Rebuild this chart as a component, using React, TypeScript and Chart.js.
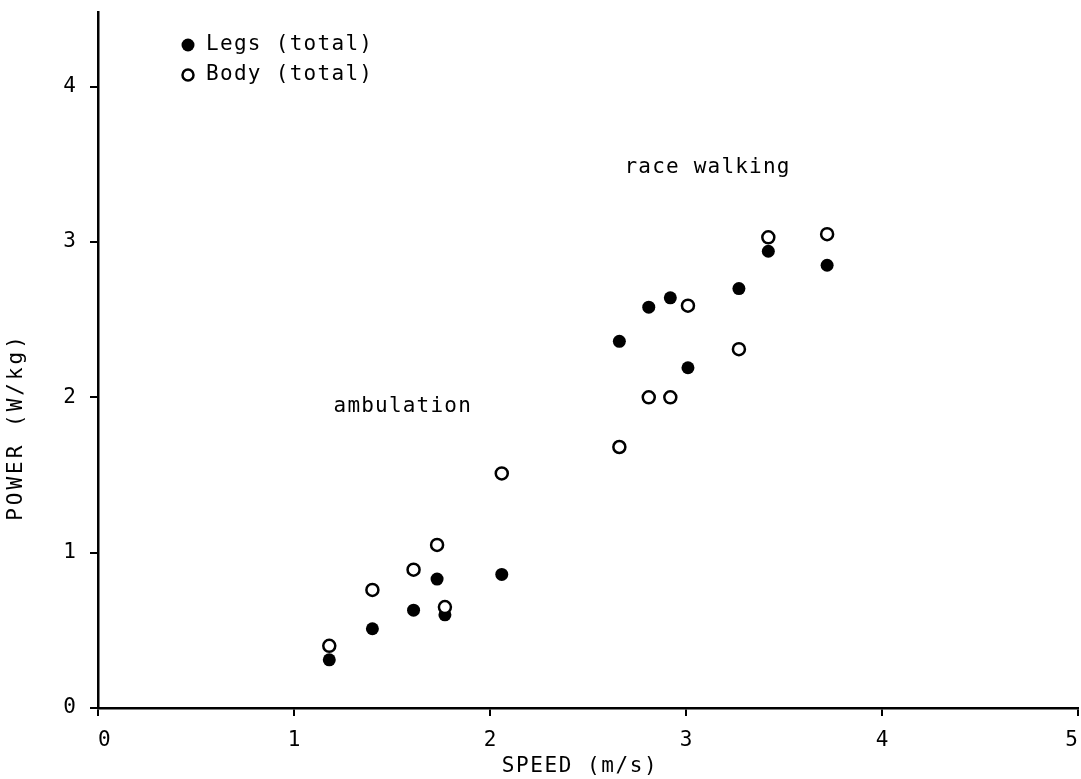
import React, { useEffect, useRef } from "react";
import { Chart, registerables } from "chart.js";

Chart.register(...registerables);

// Speed (m/s) at which both quantities were measured
const speed = [1.18, 1.40, 1.61, 1.73, 1.77, 2.06, 2.66, 2.81, 2.92, 3.01, 3.27, 3.42, 3.72];
// Power (W/kg), legs total (filled circles)
const legsTotal = [0.31, 0.51, 0.63, 0.83, 0.60, 0.86, 2.36, 2.58, 2.64, 2.19, 2.70, 2.94, 2.85];
// Power (W/kg), body total (open circles)
const bodyTotal = [0.40, 0.76, 0.89, 1.05, 0.65, 1.51, 1.68, 2.00, 2.00, 2.59, 2.31, 3.03, 3.05];

const xTicks = [0, 1, 2, 3, 4, 5];
const yTicks = [0, 1, 2, 3, 4];

const seriesLabels = ["Legs (total)", "Body (total)"];
const xTitle = "SPEED (m/s)";
const yTitle = "POWER (W/kg)";
const annotations = [
  { text: "ambulation", x: 1.555, y: 1.94 },
  { text: "race walking", x: 3.11, y: 3.48 },
];

const FONT = "'DejaVu Sans Mono', 'Liberation Mono', monospace";

const zeroPad = () => ({ left: 0, top: 0, right: 0, bottom: 0 });

const textPlugin = {
  id: "textPlugin",
  afterDraw(chart: any) {
    const ctx = chart.ctx as CanvasRenderingContext2D;
    const xs = chart.scales.x;
    const ys = chart.scales.y;
    ctx.save();
    ctx.fillStyle = "#000";
    ctx.strokeStyle = "#000";
    ctx.textBaseline = "middle";

    // annotations
    ctx.font = `21px ${FONT}`;
    (ctx as any).letterSpacing = "1.2px";
    ctx.textAlign = "center";
    for (const a of annotations) {
      ctx.fillText(a.text, xs.getPixelForValue(a.x), ys.getPixelForValue(a.y));
    }

    // legend
    (ctx as any).letterSpacing = "1.3px";
    ctx.textAlign = "left";
    const lx = 188;
    const rows = [45, 75];
    ctx.beginPath();
    ctx.arc(lx, rows[0], 6.5, 0, Math.PI * 2);
    ctx.fill();
    ctx.beginPath();
    ctx.lineWidth = 2.5;
    ctx.arc(lx, rows[1], 5.5, 0, Math.PI * 2);
    ctx.fillStyle = "#fff";
    ctx.fill();
    ctx.stroke();
    ctx.fillStyle = "#000";
    ctx.fillText(seriesLabels[0], 206, rows[0]);
    ctx.fillText(seriesLabels[1], 206, rows[1]);

    // axis titles
    (ctx as any).letterSpacing = "1.6px";
    ctx.textAlign = "center";
    ctx.fillText(xTitle, 580, 767);

    ctx.translate(17, 427);
    ctx.rotate(-Math.PI / 2);
    (ctx as any).letterSpacing = "3px";
    ctx.fillText(yTitle, 0, 0);
    ctx.restore();
  },
};

export default function App() {
  const ref = useRef<HTMLCanvasElement>(null);

  useEffect(() => {
    if (!ref.current) return;
    const legs = speed.map((s, i) => ({ x: s, y: legsTotal[i] }));
    const body = speed.map((s, i) => ({ x: s, y: bodyTotal[i] }));
    const chart = new Chart(ref.current, {
      type: "scatter",
      data: {
        datasets: [
          {
            label: seriesLabels[0],
            data: legs,
            order: 1,
            pointRadius: 6.5,
            pointHoverRadius: 6.5,
            backgroundColor: "#000",
            borderColor: "#000",
            borderWidth: 0,
          },
          {
            label: seriesLabels[1],
            data: body,
            order: 0,
            pointRadius: 6,
            pointHoverRadius: 6,
            backgroundColor: "#fff",
            borderColor: "#000",
            borderWidth: 2.5,
          },
        ],
      },
      options: {
        animation: false,
        responsive: false,
        devicePixelRatio: 1,
        layout: { autoPadding: false, padding: { left: 0, top: 12, right: 3, bottom: 0 } },
        plugins: {
          legend: { display: false },
          tooltip: { enabled: false },
          title: { display: false },
        },
        scales: {
          x: {
            type: "linear",
            min: 0,
            max: 5,
            afterBuildTicks: (s: any) => {
              s.ticks = xTicks.map((v) => ({ value: v }));
            },
            afterFit: (s: any) => {
              s.height = 71;
              s.paddingLeft = 0;
              s.paddingRight = 0;
              s.paddingTop = 0;
              s.paddingBottom = 0;
              s.getPadding = zeroPad;
            },
            ticks: {
              color: "#000",
              font: { family: FONT, size: 21 },
              padding: 12,
              maxRotation: 0,
              align: "inner",
            },
            grid: {
              drawOnChartArea: false,
              drawTicks: true,
              tickLength: 8,
              color: "#000",
              lineWidth: 2,
            },
            border: { display: true, color: "#000", width: 2.5 },
          },
          y: {
            type: "linear",
            min: 0,
            max: 4.48,
            afterBuildTicks: (s: any) => {
              s.ticks = yTicks.map((v) => ({ value: v }));
            },
            afterFit: (s: any) => {
              s.width = 98;
              s.paddingLeft = 0;
              s.paddingRight = 0;
              s.paddingTop = 0;
              s.paddingBottom = 0;
              s.getPadding = zeroPad;
            },
            ticks: {
              color: "#000",
              font: { family: FONT, size: 21 },
              padding: 14,
            },
            grid: {
              drawOnChartArea: false,
              drawTicks: true,
              tickLength: 8,
              color: "#000",
              lineWidth: 2,
            },
            border: { display: true, color: "#000", width: 2.5 },
          },
        },
      },
      plugins: [textPlugin],
    });
    return () => chart.destroy();
  }, []);

  return (
    <div style={{ position: "absolute", left: 0, top: 0, width: 1081, height: 779, background: "#fff" }}>
      <canvas ref={ref} width={1081} height={779} style={{ display: "block" }} />
    </div>
  );
}
